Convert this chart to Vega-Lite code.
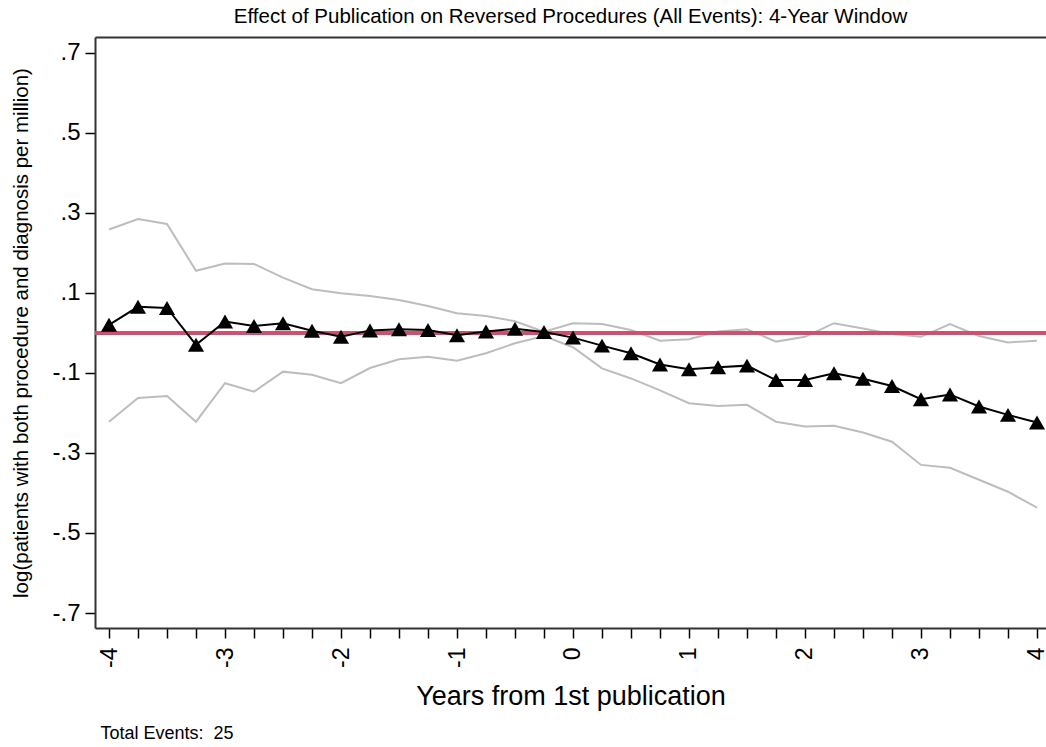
{
  "$schema": "https://vega.github.io/schema/vega-lite/v6.json",
  "autosize": {"type": "none"},
  "width": 951,
  "height": 591,
  "padding": {"left": 95, "top": 37, "right": 0, "bottom": 119},
  "background": "white",
  "config": {
    "font": "Liberation Sans",
    "view": {"stroke": null},
    "axis": {"grid": false}
  },
  "title": {
    "text": "Effect of Publication on Reversed Procedures (All Events): 4-Year Window",
    "font": "Liberation Sans",
    "fontSize": 20.5,
    "fontWeight": "normal",
    "color": "#000000",
    "offset": 10,
    "anchor": "middle"
  },
  "data": {
    "values": [
      {"t": -4, "b": 0.020, "lo": -0.222, "hi": 0.258},
      {"t": -3.75, "b": 0.065, "lo": -0.163, "hi": 0.284},
      {"t": -3.5, "b": 0.062, "lo": -0.158, "hi": 0.272},
      {"t": -3.25, "b": -0.030, "lo": -0.222, "hi": 0.155},
      {"t": -3, "b": 0.028, "lo": -0.126, "hi": 0.173},
      {"t": -2.75, "b": 0.017, "lo": -0.147, "hi": 0.172},
      {"t": -2.5, "b": 0.024, "lo": -0.097, "hi": 0.138},
      {"t": -2.25, "b": 0.005, "lo": -0.105, "hi": 0.109},
      {"t": -2, "b": -0.010, "lo": -0.126, "hi": 0.099},
      {"t": -1.75, "b": 0.006, "lo": -0.088, "hi": 0.092},
      {"t": -1.5, "b": 0.009, "lo": -0.066, "hi": 0.082},
      {"t": -1.25, "b": 0.007, "lo": -0.060, "hi": 0.067},
      {"t": -1, "b": -0.006, "lo": -0.070, "hi": 0.049},
      {"t": -0.75, "b": 0.003, "lo": -0.051, "hi": 0.042},
      {"t": -0.5, "b": 0.010, "lo": -0.026, "hi": 0.029},
      {"t": -0.25, "b": 0.002, "lo": -0.008, "hi": 0.003},
      {"t": 0, "b": -0.012, "lo": -0.036, "hi": 0.024},
      {"t": 0.25, "b": -0.032, "lo": -0.089, "hi": 0.022},
      {"t": 0.5, "b": -0.051, "lo": -0.114, "hi": 0.007},
      {"t": 0.75, "b": -0.079, "lo": -0.144, "hi": -0.020},
      {"t": 1, "b": -0.091, "lo": -0.176, "hi": -0.016},
      {"t": 1.25, "b": -0.086, "lo": -0.183, "hi": 0.003},
      {"t": 1.5, "b": -0.082, "lo": -0.180, "hi": 0.009},
      {"t": 1.75, "b": -0.118, "lo": -0.222, "hi": -0.022},
      {"t": 2, "b": -0.118, "lo": -0.234, "hi": -0.010},
      {"t": 2.25, "b": -0.101, "lo": -0.232, "hi": 0.024},
      {"t": 2.5, "b": -0.115, "lo": -0.249, "hi": 0.011},
      {"t": 2.75, "b": -0.133, "lo": -0.272, "hi": -0.003},
      {"t": 3, "b": -0.166, "lo": -0.330, "hi": -0.010},
      {"t": 3.25, "b": -0.154, "lo": -0.337, "hi": 0.022},
      {"t": 3.5, "b": -0.184, "lo": -0.367, "hi": -0.008},
      {"t": 3.75, "b": -0.205, "lo": -0.397, "hi": -0.024},
      {"t": 4, "b": -0.224, "lo": -0.437, "hi": -0.020}
    ]
  },
  "resolve": {"axis": {"x": "independent", "y": "independent"}},
  "layer": [
    {
      "mark": {"type": "line", "color": "#bdbdbd", "strokeWidth": 2},
      "encoding": {
        "x": {
          "field": "t", "type": "quantitative",
          "scale": {"domain": [-4.1207, 4.0776], "nice": false, "zero": false},
          "axis": {
            "orient": "bottom",
            "title": "Years from 1st publication",
            "titleFontSize": 27, "titleFontWeight": "normal", "titleColor": "#000000",
            "titlePadding": 16,
            "values": [-4, -3.75, -3.5, -3.25, -3, -2.75, -2.5, -2.25, -2, -1.75, -1.5, -1.25, -1, -0.75, -0.5, -0.25, 0, 0.25, 0.5, 0.75, 1, 1.25, 1.5, 1.75, 2, 2.25, 2.5, 2.75, 3, 3.25, 3.5, 3.75, 4],
            "labelExpr": "datum.value % 1 === 0 ? '' + datum.value : ''",
            "labelAngle": -90,
            "labelFontSize": 23,
            "labelColor": "#000000",
            "labelPadding": 9,
            "labelOverlap": false,
            "labelFlush": false,
            "labelBound": false,
            "tickSize": 10, "tickColor": "#000000", "tickWidth": 1.5,
            "domainColor": "#333333", "domainWidth": 2
          }
        },
        "y": {
          "field": "hi", "type": "quantitative",
          "scale": {"domain": [-0.7374, 0.7389], "nice": false, "zero": false},
          "axis": {
            "orient": "left",
            "title": "log(patients with both procedure and diagnosis per million)",
            "titleFontSize": 20.5, "titleFontWeight": "normal", "titleColor": "#000000",
            "titlePadding": 20,
            "values": [-0.7, -0.5, -0.3, -0.1, 0.1, 0.3, 0.5, 0.7],
            "labelExpr": "replace('' + datum.value, '0.', '.')",
            "labelFontSize": 24,
            "labelColor": "#000000",
            "labelPadding": 5,
            "labelOverlap": false,
            "labelFlush": false,
            "labelBound": false,
            "tickSize": 10, "tickColor": "#000000", "tickWidth": 1.5,
            "domainColor": "#333333", "domainWidth": 2
          }
        }
      }
    },
    {
      "mark": {"type": "line", "color": "#bdbdbd", "strokeWidth": 2},
      "encoding": {
        "x": {
          "field": "t", "type": "quantitative",
          "axis": {
            "orient": "bottom",
            "offset": 96,
            "title": "Total Events: \u00a025",
            "titleFontSize": 18, "titleFontWeight": "normal", "titleColor": "#000000",
            "titleAnchor": "start", "titleAlign": "left", "titleX": 5,
            "labels": false, "ticks": false, "domain": false,
            "titlePadding": 0
          }
        },
        "y": {"field": "lo", "type": "quantitative", "axis": null}
      }
    },
    {
      "mark": {"type": "rule", "color": "#cf4f6f", "strokeWidth": 3},
      "encoding": {"y": {"datum": 0, "type": "quantitative", "axis": null}}
    },
    {
      "mark": {
        "type": "line", "color": "#000000", "strokeWidth": 2,
        "point": {"shape": "triangle-up", "filled": true, "size": 260, "color": "#000000", "opacity": 1}
      },
      "encoding": {
        "x": {
          "field": "t", "type": "quantitative",
          "axis": {
            "orient": "top", "title": null, "labels": false, "ticks": false,
            "domainColor": "#333333", "domainWidth": 2
          }
        },
        "y": {"field": "b", "type": "quantitative", "axis": null}
      }
    }
  ]
}
